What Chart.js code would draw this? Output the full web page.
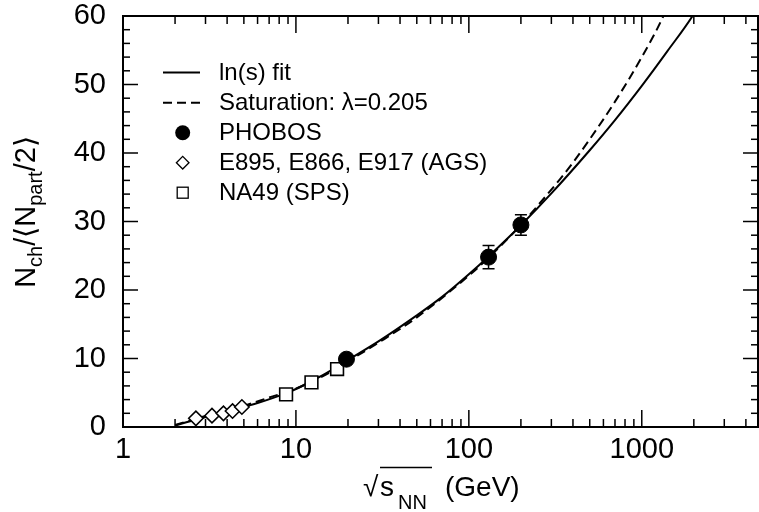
<!DOCTYPE html>
<html><head><meta charset="utf-8">
<script src="https://cdn.jsdelivr.net/npm/chart.js@4.4.0/dist/chart.umd.min.js"></script>
<style>html,body{margin:0;padding:0;background:#fff;}#wrap{width:759px;height:512px;}</style>
</head><body><div id="wrap"><canvas id="c" width="759" height="512"></canvas></div>
<script>
// ---- data ----
const fitX = [2, 2.64, 3.3, 4.3, 4.87, 6, 8.8, 10, 12.3, 15, 17.3, 19.6, 30, 50, 70, 100, 130, 200, 300, 500, 700, 1000, 1400, 2000, 2200];
const fitY = [0.2, 1.1, 1.7, 2.45, 2.85, 3.5, 4.95, 5.55, 6.7, 7.85, 8.8, 9.65, 12.5, 16.3, 19.0, 22.3, 24.9, 29.45, 34.1, 40.4, 44.8, 49.8, 54.8, 60.3, 62.2];
const satX = [2, 3, 5, 7, 10, 15, 19.6, 30, 50, 100, 130, 200, 250, 337, 400, 500, 700, 1000, 1333, 1450];
const satY = [0.3, 1.6, 3.1, 4.3, 5.6, 7.7, 9.45, 12.3, 16.0, 22.1, 24.7, 29.5, 32.3, 36.2, 38.6, 42.0, 47.5, 54.0, 60.0, 62.3];
const phobosX = [19.6, 130, 200];
const phobosY = [9.9, 24.8, 29.5];
const phobosErr = [0, 1.7, 1.5];
const agsX = [2.64, 3.27, 3.81, 4.30, 4.87];
const agsY = [1.27, 1.65, 2.0, 2.33, 2.92];
const na49X = [8.77, 12.3, 17.3];
const na49Y = [4.77, 6.52, 8.46];
const xTickLabels = [1, 10, 100, 1000];
const yTickLabels = [0, 10, 20, 30, 40, 50, 60];
const legendLabels = ['ln(s) fit', 'Saturation: \u03bb=0.205', 'PHOBOS', 'E895, E866, E917 (AGS)', 'NA49 (SPS)'];

const FONT = '"Liberation Sans", Arial, Helvetica, sans-serif';
const pts = (xs, ys) => xs.map((v, i) => ({x: v, y: ys[i]}));

const deco = {
  id: 'deco',
  beforeDatasetsDraw(chart) {
    const {ctx, scales: {x, y}} = chart;
    ctx.save();
    ctx.strokeStyle = '#000'; ctx.lineWidth = 1.5;
    phobosX.forEach((v, i) => {
      const e = phobosErr[i]; if (!e) return;
      const px = x.getPixelForValue(v);
      const y1 = y.getPixelForValue(phobosY[i] + e), y2 = y.getPixelForValue(phobosY[i] - e);
      ctx.beginPath();
      ctx.moveTo(px, y1); ctx.lineTo(px, y2);
      ctx.moveTo(px - 6, y1); ctx.lineTo(px + 6, y1);
      ctx.moveTo(px - 6, y2); ctx.lineTo(px + 6, y2);
      ctx.stroke();
    });
    ctx.restore();
  },
  afterDraw(chart) {
    const {ctx, chartArea: a, scales: {x, y}} = chart;
    ctx.save();
    ctx.strokeStyle = '#000'; ctx.fillStyle = '#000';
    const line = (x1, y1, x2, y2) => { ctx.beginPath(); ctx.moveTo(x1, y1); ctx.lineTo(x2, y2); ctx.stroke(); };
    ctx.lineWidth = 1.5;
    for (let d = 0; d < 4; d++) for (let m = 1; m <= 9; m++) {
      const v = Math.pow(10, d) * m; if (v > x.max) break;
      const px = x.getPixelForValue(v); const len = m === 1 ? 17 : 8;
      line(px, a.bottom, px, a.bottom - len); line(px, a.top, px, a.top + len);
    }
    for (let v = y.min; v <= y.max; v += 2) {
      const py = y.getPixelForValue(v); const len = v % 10 === 0 ? 15 : 7;
      line(a.left, py, a.left + len, py); line(a.right, py, a.right - len, py);
    }
    ctx.lineWidth = 2;
    ctx.strokeRect(a.left, a.top, a.right - a.left, a.bottom - a.top);

    // legend
    const lx0 = 163, lx1 = 200, mx = 182.7, tx = 219, ry = [72.5, 102.7, 132.7, 162.7, 192.7];
    ctx.font = '24px ' + FONT; ctx.textBaseline = 'middle'; ctx.textAlign = 'left';
    ctx.lineWidth = 2;
    line(lx0, ry[0], lx1, ry[0]);
    ctx.setLineDash([9, 5]); line(lx0, ry[1], lx1, ry[1]); ctx.setLineDash([]);
    ctx.beginPath(); ctx.arc(mx, ry[2], 7.5, 0, Math.PI * 2); ctx.fill();
    ctx.lineWidth = 1.3;
    ctx.beginPath(); ctx.moveTo(mx - 6.3, ry[3]); ctx.lineTo(mx, ry[3] - 6.3); ctx.lineTo(mx + 6.3, ry[3]); ctx.lineTo(mx, ry[3] + 6.3); ctx.closePath(); ctx.stroke();
    ctx.strokeRect(mx - 5.5, ry[4] - 5.5, 11, 11);
    legendLabels.forEach((t, i) => ctx.fillText(t, tx, ry[i] + 1));

    // x title
    ctx.textBaseline = 'alphabetic';
    ctx.font = '28px ' + FONT; ctx.fillText('\u221a', 363, 496);
    ctx.fillText('s', 380, 496);
    ctx.font = '20px ' + FONT; ctx.fillText('NN', 398, 509);
    ctx.lineWidth = 1.5; line(380, 467.5, 432, 467.5);
    ctx.font = '28px ' + FONT; ctx.fillText('(GeV)', 445, 496);

    // y title (rotated)
    const parts = [['N', 29, 0], ['ch', 20, 7], ['/\u27e8N', 29, 0], ['part', 20, 7], ['/2\u27e9', 29, 0]];
    let total = 0;
    parts.forEach(p => { ctx.font = p[1] + 'px ' + FONT; total += ctx.measureText(p[0]).width; });
    ctx.translate(35, 212 + total / 2); ctx.rotate(-Math.PI / 2);
    let ox = 0;
    parts.forEach(p => { ctx.font = p[1] + 'px ' + FONT; ctx.fillText(p[0], ox, p[2]); ox += ctx.measureText(p[0]).width; });
    ctx.restore();
  }
};

new Chart(document.getElementById('c'), {
  type: 'scatter',
  data: {datasets: [
    {label: 'PHOBOS', data: pts(phobosX, phobosY), pointStyle: 'circle', pointRadius: 8, pointBorderWidth: 1, backgroundColor: '#000', borderColor: '#000', order: 0},
    {label: 'AGS', data: pts(agsX, agsY), pointStyle: 'rectRot', pointRadius: 7.2, pointBorderWidth: 1.6, backgroundColor: '#fff', borderColor: '#000', order: 0},
    {label: 'NA49', data: pts(na49X, na49Y), pointStyle: 'rect', pointRadius: 9, pointBorderWidth: 1.6, backgroundColor: '#fff', borderColor: '#000', order: 0},
    {label: 'ln(s) fit', data: pts(fitX, fitY), showLine: true, pointRadius: 0, borderColor: '#000', borderWidth: 2, cubicInterpolationMode: 'monotone', order: 1},
    {label: 'Saturation', data: pts(satX, satY), showLine: true, pointRadius: 0, borderColor: '#000', borderWidth: 2, borderDash: [9, 5], cubicInterpolationMode: 'monotone', order: 1}
  ]},
  options: {
    responsive: false, animation: false, devicePixelRatio: 1,
    layout: {autoPadding: false, padding: {left: 0, right: 1, top: 16, bottom: 0}},
    plugins: {legend: {display: false}, tooltip: {enabled: false}},
    scales: {
      x: {type: 'logarithmic', min: 1, max: 4700,
        grid: {display: false, drawTicks: false}, border: {display: false},
        afterBuildTicks(s) { s.ticks = xTickLabels.map(v => ({value: v})); },
        afterFit(s) { s.height = 85; s.paddingLeft = 0; s.paddingRight = 0; },
        ticks: {autoSkip: false, maxRotation: 0, padding: 6, color: '#000', font: {family: FONT, size: 29}, callback: v => String(v)}},
      y: {min: 0, max: 60,
        grid: {display: false, drawTicks: false}, border: {display: false},
        afterBuildTicks(s) { s.ticks = yTickLabels.map(v => ({value: v})); },
        afterFit(s) { s.width = 123; s.paddingTop = 0; s.paddingBottom = 0; },
        ticks: {padding: 17, color: '#000', font: {family: FONT, size: 29}, callback: v => String(v)}}
    }
  },
  plugins: [deco]
});
</script></body></html>
